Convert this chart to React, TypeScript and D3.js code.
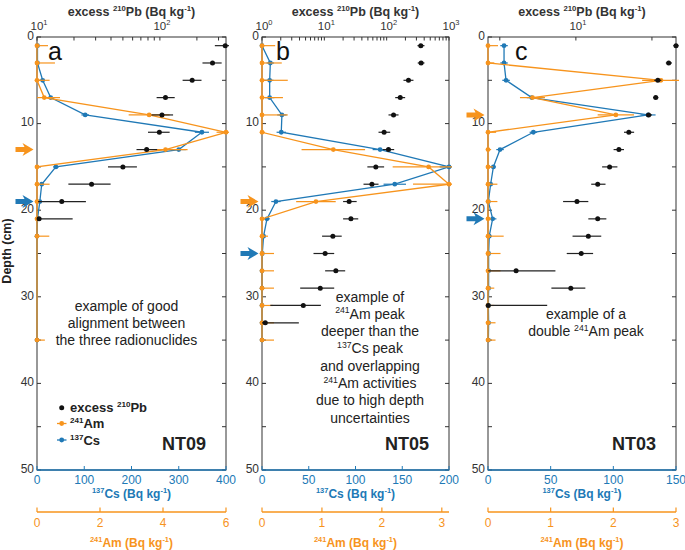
import * as d3 from "d3";

// depth (cm) of the sampled slices
const DEPTH_A = [1, 3, 5, 7, 9, 11, 13, 15, 17, 19, 21, 23, 35];
const DEPTH_BC = [1, 3, 5, 7, 9, 11, 13, 15, 17, 19, 21, 23, 25, 27, 29, 31, 33, 35];

// NT09
const PB_DEPTH_A = [1, 3, 5, 7, 9, 11, 13, 15, 17, 19, 21];
const PB_A = [340, 268, 183, 111, 104, 99, 78, 50, 27.8, 15.9, 10.4];
const PB_LO_A = [280, 222, 153, 94, 85.5, 80, 64.5, 37.8, 18, 10.2, 10];
const PB_HI_A = [400, 318, 218, 132, 128, 120, 95, 65, 39.7, 25, 19.5];
const CS_A = [1, 1, 12, 29, 102, 349, 300, 40, 10, 6, 1, 0, 0];
const CS_ERR_A = [3, 3, 5, 6, 8, 15, 15, 6, 4, 4, 2, 1, 1];
const AM_A = [0, 0, 0, 0.23, 3.56, 6.0, 4.08, 0, 0, 0, 0, 0, 0];
const AM_ERR_A = [0.35, 0.57, 0.4, 0.5, 0.65, 0.3, 0.7, 0.05, 0.4, 0.1, 0.1, 0.39, 0.25];

// NT05
const PB_DEPTH_B = [1, 3, 5, 7, 9, 11, 13, 15, 17, 19, 21, 23, 25, 27, 29, 31, 33];
const PB_B = [353, 357, 224, 165, 129, 91, 107, 67, 58, 25, 26.7, 13.7, 10.3, 15.3, 8.6, 4.6, 1.13];
const PB_LO_B = [312, 315, 186, 137, 107, 74, 87, 49, 42.5, 20, 20, 9.2, 6.7, 10.3, 4.1, 1.36, 1.0];
const PB_HI_B = [404, 404, 269, 198, 155, 114, 132, 91, 74, 33, 35, 19, 14.4, 21.6, 14.4, 8.8, 3.9];
const CS_B = [0, 8.9, 8.2, 8.2, 21.3, 20.6, 126.3, 200, 142, 14.9, 5.3, 1.7, 0.3, 0, 0, 0, 0, 0];
const CS_ERR_B = [1, 4, 4, 5, 5, 5, 8, 10, 12, 5, 3, 2, 1, 1, 1, 1, 1, 1];
const AM_B = [0, 0, 0, 0, 0, 0, 1.19, 2.78, 3.12, 0.9, 0, 0, 0, 0, 0, 0, 0, 0];
const AM_ERR_B = [0.22, 0.33, 0.43, 0.35, 0.43, 0.05, 0.53, 0.6, 0.6, 0.33, 0.05, 0.1, 0.2, 0.2, 0.2, 0.18, 0.2, 0.2];

// NT03
const PB_DEPTH_C = [1, 3, 5, 7, 9, 11, 13, 15, 17, 19, 21, 23, 25, 27, 29, 31];
const PB_C = [24.9, 23.3, 21.1, 20.7, 19.4, 16.2, 14.8, 13.6, 12.2, 10.1, 12.2, 11.2, 10.5, 5.8, 9.55, 4.5];
const PB_LO_C = [24.3, 22.7, 20.4, 20.2, 18.9, 15.5, 14.1, 12.7, 11.5, 8.9, 11.2, 9.7, 9.2, 4.5, 8.0, 4.5];
const PB_HI_C = [25.5, 24.0, 21.8, 21.2, 20.0, 17.0, 15.5, 14.6, 13.1, 11.2, 13.2, 12.6, 11.7, 8.3, 10.9, 7.7];
const CS_C = [12.8, 12.8, 14.4, 34.9, 127.7, 36.2, 9.6, 4.3, 2.1, 0.3, 3.7, 1, 0.5, 0.5, 0.5, 0.3, 0.5, 0.3];
const CS_ERR_C = [3, 3, 3, 4, 6, 3, 3, 2, 2, 1, 3, 2, 1, 1, 1, 1, 1, 1];
const AM_C = [0, 0, 2.76, 0.71, 2.04, 0, 0, 0, 0, 0, 0, 0, 0, 0, 0, 0, 0, 0];
const AM_ERR_C = [0.16, 0.1, 0.3, 0.2, 0.29, 0.13, 0.05, 0.08, 0.15, 0.15, 0.05, 0.25, 0.2, 0.2, 0.1, 0.1, 0.12, 0.12];

// axes
const DEPTH_TICKS = [0, 10, 20, 30, 40, 50];
const DEPTH_MINOR = [0, 5, 10, 15, 20, 25, 30, 35, 40, 45, 50];
const CS_TICKS_A = [0, 100, 200, 300, 400];
const CS_TICKS_B = [0, 50, 100, 150, 200];
const CS_TICKS_C = [0, 50, 100, 150];
const AM_TICKS_A = [0, 2, 4, 6];
const AM_TICKS_BC = [0, 1, 2, 3];
const PB_LABELS_A = [10, 100];
const PB_LABELS_B = [1, 10, 100, 1000];
const PB_LABELS_C = [10];
const PB_TICKS_C = [5, 10, 20];

// dated horizons marked by arrows (cm)
const AM_ARROW = [13, 19, 9];
const CS_ARROW = [19, 25, 21];

const NOTE_A = ["example of good", "alignment between", "the three radionuclides"];
const NOTE_B = [
	"example of",
	"^241Am peak",
	"deeper than the",
	"^137Cs peak",
	"and overlapping",
	"^241Am activities",
	"due to high depth",
	"uncertainties",
];
const NOTE_C = ["example of a", "double ^241Am peak"];

const ORANGE = "#f7941d";
const BLUE = "#2079b6";
const INK = "#333333";
const FONT = "Arial, 'Liberation Sans', Helvetica, sans-serif";

const TOP = 37;
const BOTTOM = 470;

function rich(str: string, size: number) {
	const parts = str.split(/\^(-?\d+)/);
	const out: JSX.Element[] = [];
	let raised = false;
	parts.forEach((p, i) => {
		if (!p) return;
		if (i % 2 === 1) {
			out.push(
				<tspan key={i} fontSize={size * 0.62} dy={raised ? 0 : -size * 0.38}>
					{p}
				</tspan>,
			);
			raised = true;
		} else {
			out.push(
				<tspan key={i} dy={raised ? size * 0.38 : 0}>
					{p}
				</tspan>,
			);
			raised = false;
		}
	});
	return out;
}

function arrowPath(tip: number, y: number) {
	return `M${tip - 18},${y - 2.5} L${tip - 9},${y - 2.5} L${tip - 11},${y - 6.5} L${tip},${y} L${tip - 11},${y + 6.5} L${tip - 9},${y + 2.5} L${tip - 18},${y + 2.5} Z`;
}

interface PanelProps {
	id: string;
	x0: number;
	x1: number;
	pbDomain: [number, number];
	pbTicks?: number[];
	pbLabels: number[];
	csMax: number;
	csTicks: number[];
	amMax: number;
	amTicks: number[];
	pbDepth: number[];
	pb: number[];
	pbLo: number[];
	pbHi: number[];
	depth: number[];
	cs: number[];
	csErr: number[];
	am: number[];
	amErr: number[];
	amArrow: number;
	csArrow: number;
	letter: string;
	letterX: number;
	name: string;
	note: string[];
	noteX: number;
	noteY: number;
}

function Panel(p: PanelProps) {
	const y = d3.scaleLinear().domain([0, 50]).range([TOP, BOTTOM]);
	const xPb = d3.scaleLog().domain(p.pbDomain).range([p.x0, p.x1]);
	const xCs = d3.scaleLinear().domain([0, p.csMax]).range([p.x0, p.x1]);
	const xAm = d3.scaleLinear().domain([0, p.amMax]).range([p.x0, p.x1]);
	const pbTicks = p.pbTicks ?? xPb.ticks();
	const cx = (p.x0 + p.x1) / 2;

	const csLine = d3
		.line<number>()
		.x((d) => xCs(d))
		.y((_, i) => y(p.depth[i]));
	const amLine = d3
		.line<number>()
		.x((d) => xAm(d))
		.y((_, i) => y(p.depth[i]));

	return (
		<g>
			<defs>
				<clipPath id={`clip-${p.id}`}>
					<rect x={p.x0 - 3} y={TOP} width={p.x1 - p.x0 + 6} height={BOTTOM - TOP} />
				</clipPath>
			</defs>

			{/* frame */}
			<rect x={p.x0} y={TOP} width={p.x1 - p.x0} height={BOTTOM - TOP} fill="none" stroke={INK} strokeWidth={1} />

			{/* depth ticks, both sides */}
			{DEPTH_MINOR.map((d) => (
				<g key={d}>
					<line x1={p.x0} x2={p.x0 + 4} y1={y(d)} y2={y(d)} stroke={INK} />
					<line x1={p.x1} x2={p.x1 - 4} y1={y(d)} y2={y(d)} stroke={INK} />
				</g>
			))}
			{DEPTH_TICKS.map((d) => (
				<text key={d} x={p.x0 - 3} y={y(d) - 1.5} dy="0.35em" textAnchor="end" fontSize={12} fill={INK}>
					{d}
				</text>
			))}

			{/* top log axis for excess 210Pb */}
			{pbTicks.map((t) => (
				<line key={t} x1={xPb(t)} x2={xPb(t)} y1={TOP} y2={TOP + 3.5} stroke={INK} />
			))}
			{p.pbLabels.map((t) => (
				<text key={t} x={xPb(t) + 2} y={29.5} textAnchor="middle" fontSize={11.5} fill={INK}>
					10
					<tspan fontSize={7.5} dy={-5}>
						{Math.round(Math.log10(t))}
					</tspan>
				</text>
			))}
			<text x={cx} y={16} textAnchor="middle" fontSize={12.5} fontWeight="bold" fill={INK}>
				{rich("excess ^210Pb (Bq kg^-1)", 12.5)}
			</text>

			{/* bottom 137Cs axis */}
			<line x1={p.x0} x2={p.x1} y1={BOTTOM} y2={BOTTOM} stroke={BLUE} strokeWidth={1.6} />
			{p.csTicks.map((t) => (
				<g key={t}>
					<line x1={xCs(t)} x2={xCs(t)} y1={BOTTOM} y2={BOTTOM - 4} stroke={BLUE} />
					<text x={xCs(t)} y={483.5} textAnchor="middle" fontSize={12} fill={BLUE}>
						{t}
					</text>
				</g>
			))}
			<text x={cx} y={498} textAnchor="middle" fontSize={12} fontWeight="bold" fill={BLUE}>
				{rich("^137Cs (Bq kg^-1)", 12)}
			</text>

			{/* 241Am axis */}
			<line x1={p.x0} x2={p.x1} y1={512} y2={512} stroke={ORANGE} strokeWidth={1.6} />
			{p.amTicks.map((t) => (
				<g key={t}>
					<line x1={xAm(t)} x2={xAm(t)} y1={512} y2={507.5} stroke={ORANGE} strokeWidth={1.2} />
					<text x={xAm(t)} y={527} textAnchor="middle" fontSize={12} fill={ORANGE}>
						{t}
					</text>
				</g>
			))}
			<text x={cx} y={547} textAnchor="middle" fontSize={12} fontWeight="bold" fill={ORANGE}>
				{rich("^241Am (Bq kg^-1)", 12)}
			</text>

			<g clipPath={`url(#clip-${p.id})`}>
				{/* 137Cs */}
				{p.cs.map((v, i) => (
					<line
						key={`ce${i}`}
						x1={xCs(Math.max(0, v - p.csErr[i]))}
						x2={xCs(v + p.csErr[i])}
						y1={y(p.depth[i])}
						y2={y(p.depth[i])}
						stroke={BLUE}
						strokeWidth={1.2}
					/>
				))}
				<path d={csLine(p.cs) ?? ""} fill="none" stroke={BLUE} strokeWidth={1.3} />
				{p.cs.map((v, i) => (
					<circle key={`c${i}`} cx={xCs(v)} cy={y(p.depth[i])} r={2.4} fill={BLUE} />
				))}

				{/* 241Am */}
				{p.am.map((v, i) => (
					<line
						key={`ae${i}`}
						x1={xAm(Math.max(0, v - p.amErr[i]))}
						x2={xAm(v + p.amErr[i])}
						y1={y(p.depth[i])}
						y2={y(p.depth[i])}
						stroke={ORANGE}
						strokeWidth={1.2}
					/>
				))}
				<path d={amLine(p.am) ?? ""} fill="none" stroke={ORANGE} strokeWidth={1.3} />
				{p.am.map((v, i) => (
					<circle key={`a${i}`} cx={xAm(v)} cy={y(p.depth[i])} r={2.4} fill={ORANGE} />
				))}

				{/* excess 210Pb */}
				{p.pb.map((v, i) => (
					<g key={`p${i}`}>
						<line
							x1={xPb(Math.max(p.pbDomain[0], p.pbLo[i]))}
							x2={xPb(p.pbHi[i])}
							y1={y(p.pbDepth[i])}
							y2={y(p.pbDepth[i])}
							stroke="#222"
							strokeWidth={1.2}
						/>
						<circle cx={xPb(v)} cy={y(p.pbDepth[i])} r={2.5} fill="#111" />
					</g>
				))}
			</g>

			{/* horizons */}
			<path d={arrowPath(p.x0 - 3.5, y(p.amArrow))} fill={ORANGE} />
			<path d={arrowPath(p.x0 - 3.5, y(p.csArrow))} fill={BLUE} />

			<text x={p.letterX} y={60} fontSize={25} fill="#111">
				{p.letter}
			</text>
			<text x={p.x1 - 20} y={450} textAnchor="end" fontSize={18} fontWeight="bold" fill="#222">
				{p.name}
			</text>
			<text x={p.noteX} y={p.noteY} textAnchor="middle" fontSize={14} fill="#222">
				{p.note.map((line, i) => (
					<tspan key={i} x={p.noteX} y={p.noteY + i * 17.3}>
						{rich(line, 14)}
					</tspan>
				))}
			</text>
		</g>
	);
}

export default function App() {
	return (
		<svg
			width={685}
			height={550}
			viewBox="0 0 685 550"
			style={{ position: "absolute", left: 0, top: 0, background: "#fff" }}
			fontFamily={FONT}
		>
			<Panel
				id="a"
				x0={37}
				x1={226}
				pbDomain={[10, 345]}
				pbLabels={PB_LABELS_A}
				csMax={400}
				csTicks={CS_TICKS_A}
				amMax={6}
				amTicks={AM_TICKS_A}
				pbDepth={PB_DEPTH_A}
				pb={PB_A}
				pbLo={PB_LO_A}
				pbHi={PB_HI_A}
				depth={DEPTH_A}
				cs={CS_A}
				csErr={CS_ERR_A}
				am={AM_A}
				amErr={AM_ERR_A}
				amArrow={AM_ARROW[0]}
				csArrow={CS_ARROW[0]}
				letter="a"
				letterX={48}
				name="NT09"
				note={NOTE_A}
				noteX={126.5}
				noteY={310.5}
			/>
			<Panel
				id="b"
				x0={262}
				x1={449}
				pbDomain={[1, 1000]}
				pbLabels={PB_LABELS_B}
				csMax={200}
				csTicks={CS_TICKS_B}
				amMax={3.12}
				amTicks={AM_TICKS_BC}
				pbDepth={PB_DEPTH_B}
				pb={PB_B}
				pbLo={PB_LO_B}
				pbHi={PB_HI_B}
				depth={DEPTH_BC}
				cs={CS_B}
				csErr={CS_ERR_B}
				am={AM_B}
				amErr={AM_ERR_B}
				amArrow={AM_ARROW[1]}
				csArrow={CS_ARROW[1]}
				letter="b"
				letterX={276}
				name="NT05"
				note={NOTE_B}
				noteX={370}
				noteY={301.5}
			/>
			<Panel
				id="c"
				x0={488}
				x1={676}
				pbDomain={[4.49, 24.9]}
				pbTicks={PB_TICKS_C}
				pbLabels={PB_LABELS_C}
				csMax={150}
				csTicks={CS_TICKS_C}
				amMax={3}
				amTicks={AM_TICKS_BC}
				pbDepth={PB_DEPTH_C}
				pb={PB_C}
				pbLo={PB_LO_C}
				pbHi={PB_HI_C}
				depth={DEPTH_BC}
				cs={CS_C}
				csErr={CS_ERR_C}
				am={AM_C}
				amErr={AM_ERR_C}
				amArrow={AM_ARROW[2]}
				csArrow={CS_ARROW[2]}
				letter="c"
				letterX={515}
				name="NT03"
				note={NOTE_C}
				noteX={586}
				noteY={319}
			/>

			<text
				transform="translate(11,251) rotate(-90)"
				textAnchor="middle"
				fontSize={12.5}
				fontWeight="bold"
				fill="#222"
			>
				Depth (cm)
			</text>

			{/* legend */}
			<g fontSize={13} fontWeight="bold" fill="#222">
				<circle cx={61.7} cy={407.7} r={2.5} fill="#111" />
				<text x={70} y={412}>
					{rich("excess ^210Pb", 13)}
				</text>
				<line x1={57} x2={66.5} y1={423.5} y2={423.5} stroke={ORANGE} strokeWidth={1.3} />
				<circle cx={61.7} cy={423.5} r={2.4} fill={ORANGE} />
				<text x={70} y={428}>
					{rich("^241Am", 13)}
				</text>
				<line x1={57} x2={66.5} y1={440} y2={440} stroke={BLUE} strokeWidth={1.3} />
				<circle cx={61.7} cy={440} r={2.4} fill={BLUE} />
				<text x={70} y={444.5}>
					{rich("^137Cs", 13)}
				</text>
			</g>
		</svg>
	);
}
